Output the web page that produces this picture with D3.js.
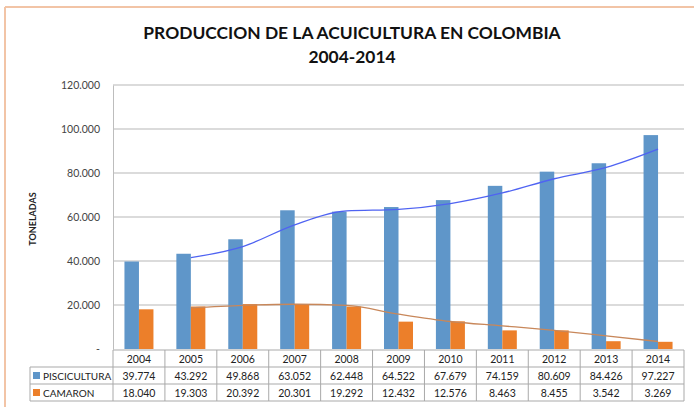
<!DOCTYPE html>
<html>
<head>
<meta charset="utf-8">
<script src="https://cdn.jsdelivr.net/npm/d3@7"></script>
<style>
  body { margin: 0; background: #fff; }
  svg { display: block; font-family: Lato, "Open Sans", sans-serif; }
</style>
</head>
<body>
<svg id="chart" width="694" height="407"></svg>
<script>
// data
var years = ["2004", "2005", "2006", "2007", "2008", "2009", "2010", "2011", "2012", "2013", "2014"]
var seriesNames = ["PISCICULTURA", "CAMARON"]
var piscicultura = [39774, 43292, 49868, 63052, 62448, 64522, 67679, 74159, 80609, 84426, 97227]
var camaron = [18040, 19303, 20392, 20301, 19292, 12432, 12576, 8463, 8455, 3542, 3269]
var yTicks = [0, 20000, 40000, 60000, 80000, 100000, 120000]

var colors = ["#5f96c9", "#ec7f2a"]
var trendColors = ["#4f63f2", "#c8875a"]

var plot = { left: 113, right: 684, top: 85, bottom: 349 }
var rowH = 17
var tableLeft = 30
var barWidth = 14.5

var svg = d3.select("#chart")

// outer frame (only top and left edges show)
svg.append("line").attr("x1", 5).attr("y1", 7).attr("x2", 694).attr("y2", 7)
  .attr("stroke", "#f2c4a6").attr("stroke-width", 2)
svg.append("line").attr("x1", 5).attr("y1", 7).attr("x2", 5).attr("y2", 407)
  .attr("stroke", "#f2c4a6").attr("stroke-width", 2)

// title
svg.append("text").attr("x", 352).attr("y", 39).attr("text-anchor", "middle")
  .attr("font-size", 17.4).attr("font-weight", "bold").attr("fill", "#111")
  .text("PRODUCCION DE LA ACUICULTURA EN COLOMBIA")
svg.append("text").attr("x", 352).attr("y", 63).attr("text-anchor", "middle")
  .attr("font-size", 17.4).attr("font-weight", "bold").attr("fill", "#111")
  .text("2004-2014")

var x = d3.scaleBand().domain(years).range([plot.left, plot.right])
var xSeries = d3.scaleBand().domain(seriesNames).range([-barWidth, barWidth])
var y = d3.scaleLinear().domain([0, 120000]).range([plot.bottom, plot.top])

var locale = d3.formatLocale({ decimal: ",", thousands: ".", grouping: [3], currency: ["", ""] })
var fmt = locale.format(",d")
var tickFmt = function(d) { return d == 0 ? "-" : fmt(d) }

// gridlines
svg.append("g").selectAll("line").data(yTicks.filter(function(d) { return d > 0 }))
  .enter().append("line")
    .attr("x1", plot.left).attr("x2", plot.right)
    .attr("y1", function(d) { return y(d) }).attr("y2", function(d) { return y(d) })
    .attr("stroke", "#cfcfcf").attr("stroke-width", 1.3)

// y axis
var yAxis = d3.axisLeft(y).tickValues(yTicks).tickFormat(tickFmt).tickSize(0).tickPadding(13)
var gy = svg.append("g").attr("transform", "translate(" + plot.left + ",0)").call(yAxis)
gy.select(".domain").attr("stroke", "#bdbdbd")
gy.selectAll("text").attr("font-size", 10.5).attr("fill", "#444").attr("font-family", "Lato, sans-serif")

svg.append("text")
  .attr("transform", "translate(36," + ((plot.top + plot.bottom) / 2 + 2) + ") rotate(-90)")
  .attr("text-anchor", "middle").attr("font-size", 9).attr("font-weight", "bold").attr("fill", "#222")
  .text("TONELADAS")

// bars
var allSeries = [piscicultura, camaron]
allSeries.forEach(function(values, s) {
  svg.append("g").selectAll("rect").data(values).enter().append("rect")
    .attr("x", function(d, i) { return x(years[i]) + x.bandwidth() / 2 + xSeries(seriesNames[s]) })
    .attr("width", xSeries.bandwidth())
    .attr("y", function(d) { return y(d) })
    .attr("height", function(d) { return y(0) - y(d) })
    .attr("fill", colors[s])
})

// 2-period moving average trendlines
allSeries.forEach(function(values, s) {
  var avg = values.slice(1).map(function(v, i) { return { year: years[i + 1], value: (v + values[i]) / 2 } })
  var line = d3.line()
    .x(function(d) { return x(d.year) + x.bandwidth() / 2 })
    .y(function(d) { return y(d.value) })
    .curve(d3.curveMonotoneX)
  svg.append("path").datum(avg).attr("d", line)
    .attr("fill", "none").attr("stroke", trendColors[s]).attr("stroke-width", 1.3)
})

// data table
var table = svg.append("g")
var gridColor = "#a9a9a9"
var tTop = plot.bottom + 1
// horizontal lines
table.append("line").attr("x1", plot.left).attr("x2", plot.right).attr("y1", tTop).attr("y2", tTop).attr("stroke", gridColor)
;[1, 2, 3].forEach(function(r) {
  table.append("line").attr("x1", tableLeft).attr("x2", plot.right)
    .attr("y1", tTop + r * rowH).attr("y2", tTop + r * rowH).attr("stroke", gridColor)
})
// vertical lines
years.concat(["end"]).forEach(function(yr, i) {
  var xx = i < years.length ? x(yr) : plot.right
  table.append("line").attr("x1", xx).attr("x2", xx).attr("y1", tTop).attr("y2", tTop + 3 * rowH).attr("stroke", gridColor)
})
table.append("line").attr("x1", tableLeft).attr("x2", tableLeft).attr("y1", tTop + rowH).attr("y2", tTop + 3 * rowH).attr("stroke", gridColor)

// header years
table.selectAll(".yr").data(years).enter().append("text")
  .attr("x", function(d) { return x(d) + x.bandwidth() / 2 })
  .attr("y", tTop + rowH / 2 + 4)
  .attr("text-anchor", "middle").attr("font-size", 10.5).attr("fill", "#222")
  .text(function(d) { return d })

allSeries.forEach(function(values, s) {
  var rowY = tTop + (s + 1) * rowH
  table.append("rect").attr("x", tableLeft + 3).attr("y", rowY + 5).attr("width", 7).attr("height", 7).attr("fill", colors[s])
  table.append("text").attr("x", tableLeft + 13).attr("y", rowY + rowH / 2 + 4)
    .attr("font-size", 10).attr("fill", "#222").text(seriesNames[s])
  table.append("g").selectAll("text").data(values).enter().append("text")
    .attr("x", function(d, i) { return x(years[i]) + x.bandwidth() / 2 })
    .attr("y", rowY + rowH / 2 + 4)
    .attr("text-anchor", "middle").attr("font-size", 10.5).attr("fill", "#222")
    .text(function(d) { return fmt(d) })
})
</script>
</body>
</html>
